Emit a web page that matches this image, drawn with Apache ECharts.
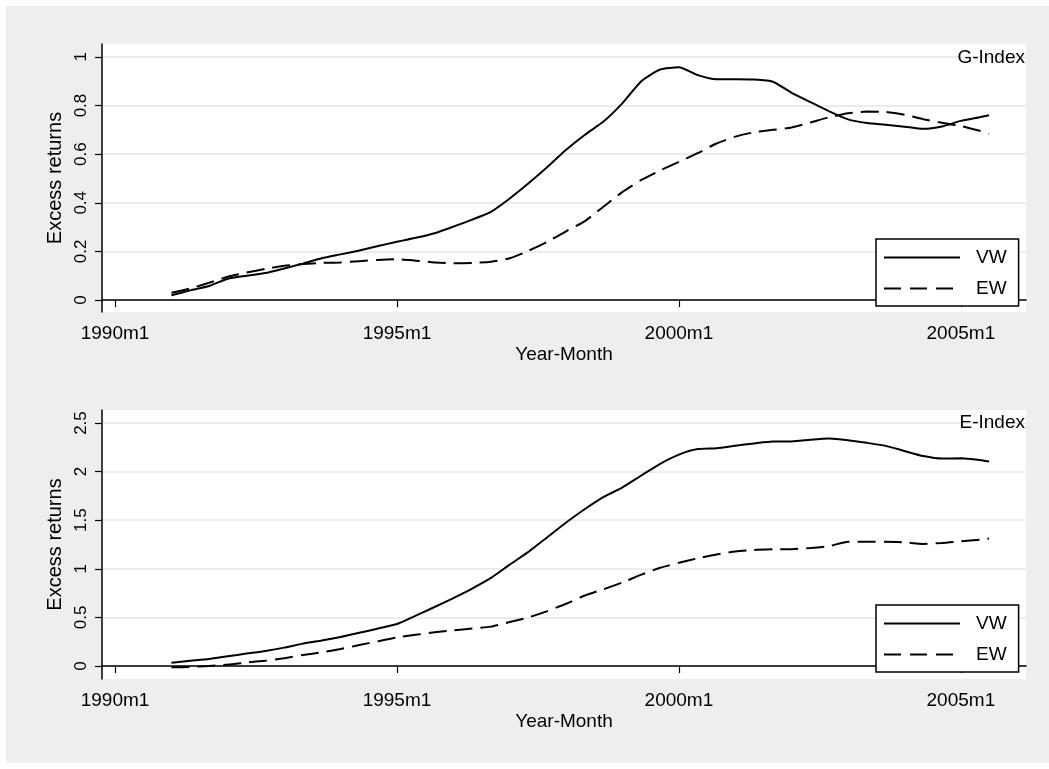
<!DOCTYPE html>
<html>
<head>
<meta charset="utf-8">
<script src="https://cdn.jsdelivr.net/npm/echarts@6.0.0/dist/echarts.min.js"></script>
<style>
  html, body { margin: 0; padding: 0; background: #fff; }
  #wrap { position: relative; width: 1049px; height: 769px; }
  #bg { position: absolute; left: 6px; top: 6px; width: 1043px; height: 757px; background: #eeeeee; }
  #chart { position: absolute; left: 0; top: 0; width: 1049px; height: 769px; }
</style>
</head>
<body>
<div id="wrap"><div id="bg"></div><div id="chart"></div></div>
<script>
// Stata-style monthly dates, read every 4 months off the picture
const months = [
  '1991m1','1991m5','1991m9','1992m1','1992m5','1992m9','1993m1','1993m5','1993m9',
  '1994m1','1994m5','1994m9','1995m1','1995m5','1995m9','1996m1','1996m5','1996m9',
  '1997m1','1997m5','1997m9','1998m1','1998m5','1998m9','1999m1','1999m5','1999m9',
  '2000m1','2000m5','2000m9','2001m1','2001m5','2001m9','2002m1','2002m5','2002m9',
  '2003m1','2003m5','2003m9','2004m1','2004m5','2004m9','2005m1','2005m5','2005m7'
];
// G-Index panel
const gVW = [0.020,0.040,0.058,0.088,0.100,0.111,0.130,0.150,0.172,0.188,0.204,0.222,0.240,0.256,0.275,
  0.302,0.331,0.363,0.418,0.480,0.547,0.618,0.680,0.735,0.810,0.900,0.948,0.957,0.925,0.908,
  0.908,0.907,0.898,0.852,0.814,0.776,0.743,0.728,0.721,0.713,0.704,0.714,0.737,0.752,0.760];
const gEW = [0.030,0.048,0.071,0.096,0.113,0.128,0.141,0.148,0.153,0.155,0.160,0.165,0.168,0.162,0.155,
  0.151,0.153,0.158,0.172,0.203,0.240,0.283,0.325,0.385,0.445,0.494,0.533,0.568,0.604,0.644,
  0.672,0.690,0.700,0.710,0.730,0.752,0.768,0.775,0.774,0.762,0.744,0.729,0.716,0.696,0.684];
// E-Index panel
const eVW = [0.034,0.053,0.071,0.100,0.128,0.155,0.189,0.230,0.263,0.298,0.341,0.386,0.432,0.518,0.607,
  0.699,0.797,0.906,1.043,1.175,1.325,1.476,1.615,1.740,1.838,1.960,2.080,2.175,2.232,2.241,
  2.266,2.290,2.310,2.310,2.328,2.340,2.323,2.296,2.265,2.212,2.160,2.134,2.137,2.120,2.104];
const eEW = [-0.014,-0.010,0.000,0.014,0.035,0.055,0.080,0.113,0.141,0.175,0.215,0.255,0.293,0.321,0.346,
  0.367,0.386,0.405,0.453,0.500,0.565,0.640,0.725,0.790,0.860,0.940,1.010,1.062,1.108,1.148,
  1.178,1.194,1.200,1.202,1.214,1.234,1.278,1.278,1.278,1.272,1.256,1.266,1.283,1.300,1.312];

const xTicks = ['1990m1','1995m1','2000m1','2005m1'];
const yTicksG = [0, 0.2, 0.4, 0.6, 0.8, 1];
const yTicksE = [0, 0.5, 1, 1.5, 2, 2.5];

// %tm: months since 1960m1
function tm(s) {
  const p = s.split('m');
  return (parseInt(p[0]) - 1960) * 12 + parseInt(p[1]) - 1;
}
function tmLabel(v) {
  return (1960 + Math.floor(v / 12)) + 'm' + (v % 12 + 1);
}
const pairs = (vals) => vals.map((v, i) => [tm(months[i]), v]);

const font = "'Liberation Sans', Arial, sans-serif";
const ink = '#000';

function xAxisFor(gi) {
  return {
    type: 'value', gridIndex: gi,
    min: 357.23, max: 553.86,
    name: 'Year-Month', nameLocation: 'middle', nameGap: 33,
    nameTextStyle: { fontSize: 19, color: ink, fontFamily: font },
    axisLine: { show: true, lineStyle: { color: ink, width: 1.5 } },
    axisTick: { show: true, length: 7, lineStyle: { color: ink, width: 1.2 }, customValues: xTicks.map(tm) },
    axisLabel: { customValues: xTicks.map(tm), formatter: tmLabel, fontSize: 19, color: ink, fontFamily: font, margin: 12 },
    splitLine: { show: false }
  };
}
function yAxisFor(gi, ticks, min, max) {
  return {
    type: 'value', gridIndex: gi, min: min, max: max,
    name: 'Excess returns', nameLocation: 'middle', nameGap: 36,
    nameTextStyle: { fontSize: 20, color: ink, fontFamily: font },
    axisLine: { show: true, lineStyle: { color: ink, width: 1.5 } },
    axisTick: { show: true, length: 7, lineStyle: { color: ink, width: 1.2 }, customValues: ticks },
    axisLabel: { customValues: ticks, rotate: 90, fontSize: 17, color: ink, fontFamily: font, margin: 12 },
    splitLine: { show: true, lineStyle: { color: '#e6e6e6', width: 1.5 } }
  };
}
function legendAt(top) {
  return {
    orient: 'vertical', left: 876, top: top,
    data: ['VW', { name: 'EW', lineStyle: { type: [17, 9] } }],
    selectedMode: false,
    itemWidth: 76, itemHeight: 14, itemGap: 12,
    padding: [9, 12, 8, 7],
    itemStyle: { opacity: 0 }, // line only, no marker
    backgroundColor: '#fff', borderColor: ink, borderWidth: 1.5, borderRadius: 0,
    textStyle: { fontSize: 19, color: ink, fontFamily: font, padding: [0, 0, 0, 11] }
  };
}
function lineSeries(name, gi, vals, dash) {
  return {
    name: name, type: 'line', xAxisIndex: gi, yAxisIndex: gi,
    data: pairs(vals), symbol: 'none', showSymbol: false, smooth: 0.2,
    lineStyle: { color: ink, width: 2, type: dash ? [18, 8] : 'solid' },
    itemStyle: { color: ink },
    silent: true, animation: false
  };
}

const chart = echarts.init(document.getElementById('chart'), null, { renderer: 'canvas' });
chart.setOption({
  backgroundColor: 'transparent',
  animation: false,
  textStyle: { fontFamily: font },
  title: [
    { text: 'G-Index', right: 24, top: 48, padding: 0, textStyle: { fontSize: 19, fontWeight: 'normal', color: ink, fontFamily: font } },
    { text: 'E-Index', right: 24, top: 413, padding: 0, textStyle: { fontSize: 19, fontWeight: 'normal', color: ink, fontFamily: font } }
  ],
  grid: [
    { left: 102, top: 44, width: 924, height: 268, show: true, backgroundColor: '#fff', borderWidth: 0 },
    { left: 102, top: 410, width: 924, height: 269, show: true, backgroundColor: '#fff', borderWidth: 0 }
  ],
  xAxis: [xAxisFor(0), xAxisFor(1)],
  yAxis: [yAxisFor(0, yTicksG, -0.049, 1.053), yAxisFor(1, yTicksE, -0.134, 2.634)],
  legend: [legendAt(239), legendAt(605)],
  series: [
    lineSeries('VW', 0, gVW, false),
    lineSeries('EW', 0, gEW, true),
    lineSeries('VW', 1, eVW, false),
    lineSeries('EW', 1, eEW, true)
  ]
});
</script>
</body>
</html>
